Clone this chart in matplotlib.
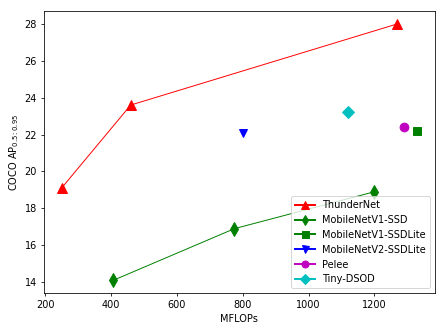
import matplotlib
matplotlib.use('Agg')
import matplotlib.pyplot as plt
from matplotlib.lines import Line2D

# ThunderNet and baselines: MFLOPs vs COCO AP
thunder_x = [250, 460, 1270]
thunder_y = [19.1, 23.6, 28.0]
ssd_x = [407, 775, 1200]
ssd_y = [14.1, 16.9, 18.9]
v1lite_x = [1330]
v1lite_y = [22.2]
v2lite_x = [800]
v2lite_y = [22.1]
pelee_x = [1290]
pelee_y = [22.4]
tinydsod_x = [1120]
tinydsod_y = [23.2]

series = [
    (thunder_x, thunder_y, 'r', '^', 11, 'ThunderNet'),
    (ssd_x, ssd_y, 'g', 'd', 10, 'MobileNetV1-SSD'),
    (v1lite_x, v1lite_y, 'g', 's', 9, 'MobileNetV1-SSDLite'),
    (v2lite_x, v2lite_y, 'b', 'v', 9, 'MobileNetV2-SSDLite'),
    (pelee_x, pelee_y, 'm', 'o', 9, 'Pelee'),
    (tinydsod_x, tinydsod_y, 'c', 'D', 9, 'Tiny-DSOD'),
]

fig, ax = plt.subplots(figsize=(447 / 70, 335 / 70), dpi=70)
handles = []
for xs, ys, c, m, ms, lab in series:
    ax.plot(xs, ys, color=c, marker=m, markersize=ms, linewidth=1)
    handles.append(Line2D([], [], color=c, marker=m, markersize=ms * 0.8,
                          linewidth=2, label=lab))
ax.set_xlabel('MFLOPs')
ax.set_ylabel('COCO AP$_{0.5:0.95}$')
ax.legend(handles=handles, loc='lower right')
fig.subplots_adjust(left=0.098, right=0.973, top=0.967, bottom=0.125)
fig.savefig('out.png', dpi=70)
